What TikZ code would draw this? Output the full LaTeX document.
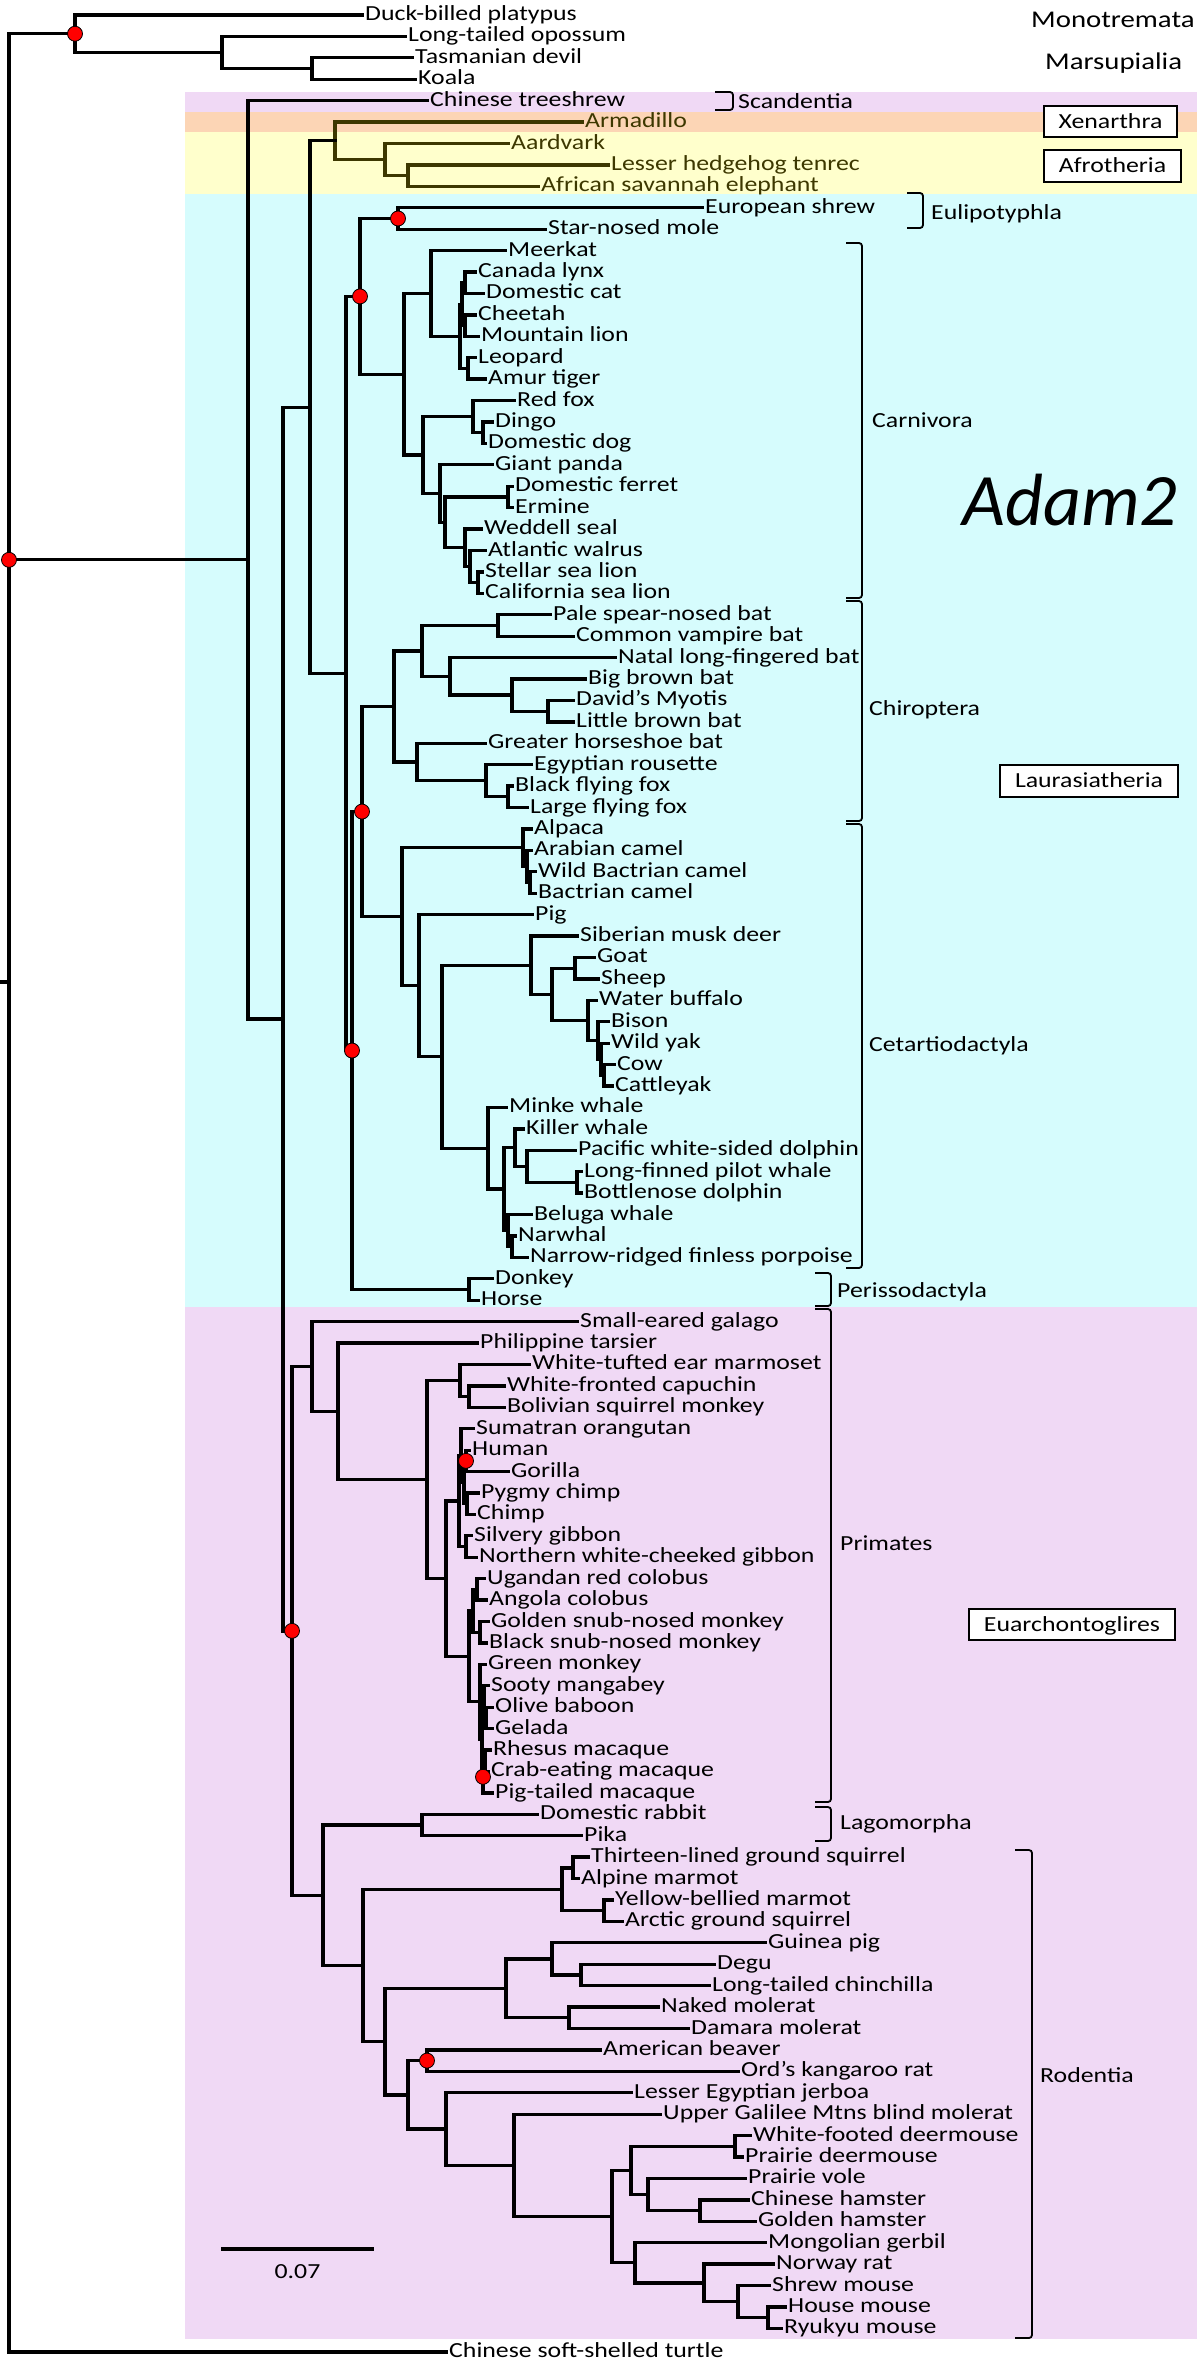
\documentclass[tikz,border=0pt]{standalone}
\usepackage{fontspec}
\setmainfont{Carlito}[FakeStretch=1.2]
\newfontfamily\plainfont{Carlito}
\usetikzlibrary{calc}
\definecolor{lav}{HTML}{F0D9F5}
\definecolor{cyanbg}{HTML}{D6FCFD}
\definecolor{peach}{HTML}{FCD5B5}
\definecolor{ylw}{HTML}{FFFFCC}
\definecolor{afro}{HTML}{3D3800}
\newcommand{\tleaf}[5][]{\coordinate (#2) at (#4,{15+21.42*(#3-1)});
  \node[lab,#1] (#2t) at ($(#2)+(3,5.5)$) {#5};}
\newcommand{\tnode}[5][]{\coordinate (tmpm) at ($(#4)!0.5!(#5)$);
  \coordinate (#2) at (#3,0 |- tmpm);
  \draw[br,#1] (#2) |- (#4); \draw[br,#1] (#2) |- (#5);}
\begin{document}
\begin{tikzpicture}[x=1pt,y=-1pt,
  lab/.style={font=\fontsize{21.5}{24}\selectfont, inner sep=0pt, anchor=base west},
  br/.style={line width=3.3pt, line cap=rect, line join=miter},
  grp/.style={font=\fontsize{21.5}{24}\selectfont, inner sep=0pt, anchor=base west},
  big/.style={font=\fontsize{24}{28}\selectfont, inner sep=0pt, anchor=base west},
  gbox/.style={draw, line width=1.6pt, fill=white, font=\fontsize{21.5}{24}\selectfont, inner sep=0pt, text height=13.8pt, text depth=0pt},
  brk/.style={line width=1.8pt, rounded corners=3pt},
  rdot/.style={circle, fill=red, draw=black, line width=0.8pt, minimum size=15pt, inner sep=0pt}]
\useasboundingbox (0,0) rectangle (1200,2358);
\fill[white] (0,0) rectangle (1200,2358);
% bands
\fill[lav] (185,92) rectangle (1197,112);
\fill[peach] (185,112) rectangle (1197,132);
\fill[ylw] (185,132) rectangle (1197,194);
\fill[cyanbg] (185,194) rectangle (1197,1307);
\fill[lav] (185,1307) rectangle (1197,2339);
% brackets
\draw[brk] (715,92) -- (733,92) -- (733,110) -- (715,110);
\draw[brk] (907,193) -- (923,193) -- (923,228) -- (907,228);
\draw[brk] (846,243) -- (862,243) -- (862,598) -- (846,598);
\draw[brk] (846,601) -- (862,601) -- (862,821) -- (846,821);
\draw[brk] (846,824) -- (862,824) -- (862,1268) -- (846,1268);
\draw[brk] (815,1273) -- (831,1273) -- (831,1306) -- (815,1306);
\draw[brk] (815,1309) -- (831,1309) -- (831,1802) -- (815,1802);
\draw[brk] (815,1807) -- (831,1807) -- (831,1841) -- (815,1841);
\draw[brk] (1015,1850) -- (1032,1850) -- (1032,2338) -- (1015,2338);
% group labels
\node[big] (gmono) at (1031,28) {Monotremata};
\node[big] (gmars) at (1045,70) {Marsupialia};
\node[grp] (gscan) at (738,108) {Scandentia};
\node[grp] (geul) at (931,219) {Eulipotyphla};
\node[grp] (gcarn) at (872,427) {Carnivora};
\node[grp] (gchir) at (869,715) {Chiroptera};
\node[grp] (gceta) at (869,1051) {Cetartiodactyla};
\node[grp] (gperi) at (837,1297) {Perissodactyla};
\node[grp] (gprim) at (840,1550) {Primates};
\node[grp] (glago) at (840,1829) {Lagomorpha};
\node[grp] (grod) at (1040,2082) {Rodentia};
\node[gbox, minimum width=133pt, minimum height=31pt] (bxen) at (1110.5,121.5) {Xenarthra};
\node[gbox, minimum width=137pt, minimum height=32pt] (bafr) at (1112.5,166) {Afrotheria};
\node[gbox, minimum width=178pt, minimum height=32pt] (blau) at (1089,781) {Laurasiatheria};
\node[gbox, minimum width=206pt, minimum height=31pt] (beua) at (1072,1624.5) {Euarchontoglires};
\node[font={\plainfont\fontsize{74}{80}\selectfont\itshape}, inner sep=0pt, anchor=base west] (adam) at (962,525) {Adam2};
% scale bar
\coordinate (sb1) at (221,2249);
\coordinate (sb2) at (374,2249);
\draw[line width=3.3pt] (sb1) -- (sb2);
\node[font=\fontsize{21.5}{24}\selectfont, inner sep=0pt, anchor=base] (sbl) at (297.5,2278) {0.07};
% leaves
\tleaf{L1}{1}{362}{Duck-billed platypus}
\tleaf{L2}{2}{405}{Long-tailed opossum}
\tleaf{L3}{3}{412}{Tasmanian devil}
\tleaf{L4}{4}{415}{Koala}
\tleaf{L5}{5}{427}{Chinese treeshrew}
\tleaf[afro]{L6}{6}{582}{Armadillo}
\tleaf[afro]{L7}{7}{508}{Aardvark}
\tleaf[afro]{L8}{8}{608}{Lesser hedgehog tenrec}
\tleaf[afro]{L9}{9}{538}{African savannah elephant}
\tleaf{L10}{10}{702}{European shrew}
\tleaf{L11}{11}{545}{Star-nosed mole}
\tleaf{L12}{12}{505}{Meerkat}
\tleaf{L13}{13}{475}{Canada lynx}
\tleaf{L14}{14}{483}{Domestic cat}
\tleaf{L15}{15}{475}{Cheetah}
\tleaf{L16}{16}{478}{Mountain lion}
\tleaf{L17}{17}{475}{Leopard}
\tleaf{L18}{18}{485}{Amur tiger}
\tleaf{L19}{19}{514}{Red fox}
\tleaf{L20}{20}{492}{Dingo}
\tleaf{L21}{21}{485}{Domestic dog}
\tleaf{L22}{22}{492}{Giant panda}
\tleaf{L23}{23}{512}{Domestic ferret}
\tleaf{L24}{24}{512}{Ermine}
\tleaf{L25}{25}{481}{Weddell seal}
\tleaf{L26}{26}{485}{Atlantic walrus}
\tleaf{L27}{27}{482}{Stellar sea lion}
\tleaf{L28}{28}{482}{California sea lion}
\tleaf{L29}{29}{550}{Pale spear-nosed bat}
\tleaf{L30}{30}{573}{Common vampire bat}
\tleaf{L31}{31}{615}{Natal long-fingered bat}
\tleaf{L32}{32}{585}{Big brown bat}
\tleaf{L33}{33}{573}{David’s Myotis}
\tleaf{L34}{34}{573}{Little brown bat}
\tleaf{L35}{35}{485}{Greater horseshoe bat}
\tleaf{L36}{36}{531}{Egyptian rousette}
\tleaf{L37}{37}{512}{Black flying fox}
\tleaf{L38}{38}{527}{Large flying fox}
\tleaf{L39}{39}{531}{Alpaca}
\tleaf{L40}{40}{531}{Arabian camel}
\tleaf{L41}{41}{535}{Wild Bactrian camel}
\tleaf{L42}{42}{535}{Bactrian camel}
\tleaf{L43}{43}{532}{Pig}
\tleaf{L44}{44}{577}{Siberian musk deer}
\tleaf{L45}{45}{594}{Goat}
\tleaf{L46}{46}{598}{Sheep}
\tleaf{L47}{47}{596}{Water buffalo}
\tleaf{L48}{48}{608}{Bison}
\tleaf{L49}{49}{608}{Wild yak}
\tleaf{L50}{50}{614}{Cow}
\tleaf{L51}{51}{612}{Cattleyak}
\tleaf{L52}{52}{506}{Minke whale}
\tleaf{L53}{53}{523}{Killer whale}
\tleaf{L54}{54}{575}{Pacific white-sided dolphin}
\tleaf{L55}{55}{581}{Long-finned pilot whale}
\tleaf{L56}{56}{581}{Bottlenose dolphin}
\tleaf{L57}{57}{531}{Beluga whale}
\tleaf{L58}{58}{515}{Narwhal}
\tleaf{L59}{59}{527}{Narrow-ridged finless porpoise}
\tleaf{L60}{60}{492}{Donkey}
\tleaf{L61}{61}{478}{Horse}
\tleaf{L62}{62}{577}{Small-eared galago}
\tleaf{L63}{63}{477}{Philippine tarsier}
\tleaf{L64}{64}{529}{White-tufted ear marmoset}
\tleaf{L65}{65}{504}{White-fronted capuchin}
\tleaf{L66}{66}{504}{Bolivian squirrel monkey}
\tleaf{L67}{67}{473}{Sumatran orangutan}
\tleaf{L68}{68}{469}{Human}
\tleaf{L69}{69}{508}{Gorilla}
\tleaf{L70}{70}{478}{Pygmy chimp}
\tleaf{L71}{71}{474}{Chimp}
\tleaf{L72}{72}{471}{Silvery gibbon}
\tleaf{L73}{73}{476}{Northern white-cheeked gibbon}
\tleaf{L74}{74}{484}{Ugandan red colobus}
\tleaf{L75}{75}{486}{Angola colobus}
\tleaf{L76}{76}{488}{Golden snub-nosed monkey}
\tleaf{L77}{77}{486}{Black snub-nosed monkey}
\tleaf{L78}{78}{485}{Green monkey}
\tleaf{L79}{79}{488}{Sooty mangabey}
\tleaf{L80}{80}{492}{Olive baboon}
\tleaf{L81}{81}{492}{Gelada}
\tleaf{L82}{82}{490}{Rhesus macaque}
\tleaf{L83}{83}{488}{Crab-eating macaque}
\tleaf{L84}{84}{492}{Pig-tailed macaque}
\tleaf{L85}{85}{537}{Domestic rabbit}
\tleaf{L86}{86}{581}{Pika}
\tleaf{L87}{87}{588}{Thirteen-lined ground squirrel}
\tleaf{L88}{88}{578}{Alpine marmot}
\tleaf{L89}{89}{612}{Yellow-bellied marmot}
\tleaf{L90}{90}{622}{Arctic ground squirrel}
\tleaf{L91}{91}{765}{Guinea pig}
\tleaf{L92}{92}{714}{Degu}
\tleaf{L93}{93}{709}{Long-tailed chinchilla}
\tleaf{L94}{94}{658}{Naked molerat}
\tleaf{L95}{95}{688}{Damara molerat}
\tleaf{L96}{96}{600}{American beaver}
\tleaf{L97}{97}{738}{Ord’s kangaroo rat}
\tleaf{L98}{98}{631}{Lesser Egyptian jerboa}
\tleaf{L99}{99}{660}{Upper Galilee Mtns blind molerat}
\tleaf{L100}{100}{750}{White-footed deermouse}
\tleaf{L101}{101}{742}{Prairie deermouse}
\tleaf{L102}{102}{745}{Prairie vole}
\tleaf{L103}{103}{748}{Chinese hamster}
\tleaf{L104}{104}{755}{Golden hamster}
\tleaf{L105}{105}{765}{Mongolian gerbil}
\tleaf{L106}{106}{773}{Norway rat}
\tleaf{L107}{107}{769}{Shrew mouse}
\tleaf{L108}{108}{785}{House mouse}
\tleaf{L109}{109}{781}{Ryukyu mouse}
\coordinate (T) at (446,2352);
\node[lab] (Tt) at ($(T)+(3,5.5)$) {Chinese soft-shelled turtle};
% internal nodes
\tnode{nMar2}{312}{L3}{L4}
\tnode{nMar}{222}{L2}{nMar2}
\tnode{nMM}{75}{L1}{nMar}
\tnode[afro]{nTE}{408}{L8}{L9}
\tnode[afro]{nAf}{385}{L7}{nTE}
\tnode[afro]{nAt}{335}{L6}{nAf}
\tnode{nEul}{398}{L10}{L11}
\tnode{nF1}{465}{L13}{L14}
\tnode{nF2}{465}{L15}{L16}
\tnode{nF12}{462}{nF1}{nF2}
\tnode{nF3}{468}{L17}{L18}
\tnode{nFel}{460}{nF12}{nF3}
\tnode{nFeli}{431}{L12}{nFel}
\tnode{nDD}{483}{L20}{L21}
\tnode{nCan}{473}{L19}{nDD}
\tnode{nMus}{508}{L23}{L24}
\tnode{nSL}{478}{L27}{L28}
\tnode{nWS}{470}{L26}{nSL}
\tnode{nPin}{465}{L25}{nWS}
\tnode{nQ}{445}{nMus}{nPin}
\tnode{nArc}{440}{L22}{nQ}
\tnode{nCanif}{423}{nCan}{nArc}
\tnode{nCarn}{404}{nFeli}{nCanif}
\tnode{nB}{360}{nEul}{nCarn}
\tnode{nPhy}{498}{L29}{L30}
\tnode{nMyo}{548}{L33}{L34}
\tnode{nBB}{512}{L32}{nMyo}
\tnode{nVes}{450}{L31}{nBB}
\tnode{nYang}{422}{nPhy}{nVes}
\tnode{nFF}{508}{L37}{L38}
\tnode{nPte}{486}{L36}{nFF}
\tnode{nYin}{417}{L35}{nPte}
\tnode{nChi}{394}{nYang}{nYin}
\tnode{nBac}{530}{L41}{L42}
\tnode{nCam}{527}{L40}{nBac}
\tnode{nCamel}{523}{L39}{nCam}
\tnode{nGS}{575}{L45}{L46}
\tnode{nCC}{604}{L50}{L51}
\tnode{nYak}{601}{L49}{nCC}
\tnode{nBos}{598}{L48}{nYak}
\tnode{nBov}{588}{L47}{nBos}
\tnode{nBovid}{552}{nGS}{nBov}
\tnode{nRum}{531}{L44}{nBovid}
\tnode{nPB}{577}{L55}{L56}
\tnode{nPac}{527}{L54}{nPB}
\tnode{nDel}{515}{L53}{nPac}
\tnode{nNP}{512}{L58}{L59}
\tnode{nMon}{508}{L57}{nNP}
\tnode{nOdo}{504}{nDel}{nMon}
\tnode{nCet}{488}{L52}{nOdo}
\tnode{nRC}{442}{nRum}{nCet}
\tnode{nPig}{419}{L43}{nRC}
\tnode{nCeta}{402}{nCamel}{nPig}
\tnode{nD}{362}{nChi}{nCeta}
\tnode{nPer}{469}{L60}{L61}
\tnode{nC}{352}{nD}{nPer}
\tnode{nA}{346}{nB}{nC}
\tnode{nLA}{310}{nAt}{nA}
\tnode{nCeb}{469}{L65}{L66}
\tnode{nPla}{460}{L64}{nCeb}
\tnode{nHG}{466}{L68}{L69}
\tnode{nPC}{467}{L70}{L71}
\tnode{nHGPC}{464}{nHG}{nPC}
\tnode{nGA}{461}{L67}{nHGPC}
\tnode{nGib}{466}{L72}{L73}
\tnode{nHom}{459}{nGA}{nGib}
\tnode{nUA}{477}{L74}{L75}
\tnode{nGB}{480}{L76}{L77}
\tnode{nCol}{473}{nUA}{nGB}
\tnode{nOG}{486}{L80}{L81}
\tnode{nSOG}{484}{L79}{nOG}
\tnode{nRC2}{485}{L82}{L83}
\tnode{nMac}{483}{nRC2}{L84}
\tnode{nPap}{482}{nSOG}{nMac}
\tnode{nCer}{480}{L78}{nPap}
\tnode{nCerc}{469}{nCol}{nCer}
\tnode{nCat}{446}{nHom}{nCerc}
\tnode{nAnth}{427}{nPla}{nCat}
\tnode{nHap}{338}{L63}{nAnth}
\tnode{nPri}{312}{L62}{nHap}
\tnode{nLag}{422}{L85}{L86}
\tnode{nTA}{573}{L87}{L88}
\tnode{nYA}{604}{L89}{L90}
\tnode{nSq}{562}{nTA}{nYA}
\tnode{nDC}{581}{L92}{L93}
\tnode{nCav}{552}{L91}{nDC}
\tnode{nBat}{569}{L94}{L95}
\tnode{nHys}{506}{nCav}{nBat}
\tnode{nCas}{427}{L96}{L97}
\tnode{nPer2}{735}{L100}{L101}
\tnode{nHam}{700}{L103}{L104}
\tnode{nVH}{648}{L102}{nHam}
\tnode{nCri}{631}{nPer2}{nVH}
\tnode{nMM2}{768}{L108}{L109}
\tnode{nSM}{738}{L107}{nMM2}
\tnode{nNR}{704}{L106}{nSM}
\tnode{nMur}{635}{L105}{nNR}
\tnode{nMuroid}{612}{nCri}{nMur}
\tnode{nBM}{514}{L99}{nMuroid}
\tnode{nJer}{446}{L98}{nBM}
\tnode{nMyo2}{408}{nCas}{nJer}
\tnode{nRod2}{385}{nHys}{nMyo2}
\tnode{nRod}{363}{nSq}{nRod2}
\tnode{nGli}{323}{nLag}{nRod}
\tnode{nEua}{292}{nPri}{nGli}
\tnode{nX}{283}{nLA}{nEua}
\tnode{nEut}{248}{L5}{nX}
% root
\coordinate (tmpr) at (barycentric cs:nMM=1,nEut=1,T=1);
\coordinate (root) at (9,0 |- tmpr);
\coordinate (rootstub) at (0,0 |- tmpr);
\draw[br] (root) |- (nMM);
\draw[br] (root) |- (nEut);
\draw[br] (root) |- (T);
\draw[br] (rootstub) -- (root);
\coordinate (rj) at (root |- nEut);
% red dots
\node[rdot] (d1) at (nMM) {};
\node[rdot] (d2) at (rj) {};
\node[rdot] (d3) at (nEul) {};
\node[rdot] (d4) at (nB) {};
\node[rdot] (d5) at (nD) {};
\node[rdot] (d6) at (nC) {};
\node[rdot] (d7) at (nEua) {};
\node[rdot] (d8) at (nHG) {};
\node[rdot] (d9) at (nMac) {};
\node[rdot] (d10) at (nCas) {};
\end{tikzpicture}
\end{document}
